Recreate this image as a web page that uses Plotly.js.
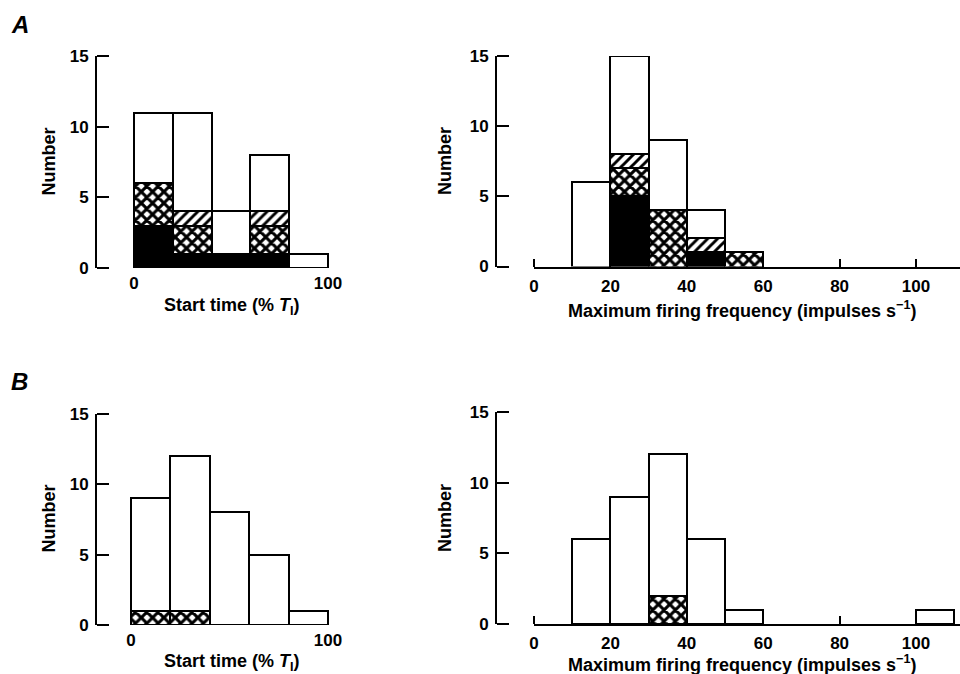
<!DOCTYPE html>
<html><head><meta charset="utf-8">
<script src="https://cdn.plot.ly/plotly-3.0.1.min.js"></script>
<style>html,body{margin:0;padding:0;background:#fff}#chart{width:960px;height:674px}</style>
</head><body><div id="chart"></div>
<script>
// ---- categories (bin centres) ----
const startBins = [10, 30, 50, 70, 90];                         // Start time (% T_I), bin width 20
const freqBins  = [5, 15, 25, 35, 45, 55, 65, 75, 85, 95, 105]; // Max firing frequency, bin width 10

// ---- Panel A: start time ----
const aStartSolid = [3, 1, 1, 1, 0];
const aStartCross = [3, 2, 0, 2, 0];
const aStartHatch = [0, 1, 0, 1, 0];
const aStartOpen  = [5, 7, 3, 4, 1];

// ---- Panel A: maximum firing frequency ----
const aFreqSolid = [0, 0, 5, 0, 1, 0, 0, 0, 0, 0, 0];
const aFreqCross = [0, 0, 2, 4, 0, 1, 0, 0, 0, 0, 0];
const aFreqHatch = [0, 0, 1, 0, 1, 0, 0, 0, 0, 0, 0];
const aFreqOpen  = [0, 6, 7, 5, 2, 0, 0, 0, 0, 0, 0];

// ---- Panel B: start time ----
const bStartCross = [1, 1, 0, 0, 0];
const bStartOpen  = [8, 11, 8, 5, 1];

// ---- Panel B: maximum firing frequency ----
const bFreqCross = [0, 0, 0, 2, 0, 0, 0, 0, 0, 0, 0];
const bFreqOpen  = [0, 6, 9, 10, 6, 1, 0, 0, 0, 0, 1];

// ---- tick labels ----
const yTicks = [0, 5, 10, 15];
const startTicks = [0, 100];
const freqTicks = [0, 20, 40, 60, 80, 100];

const W = 960, H = 674;
const fx = p => p / W;
const fy = p => 1 - p / H;
const FONT = 'Liberation Sans, Arial, sans-serif';

function seg(x, y, width, kind, xa, ya) {
  const m = {line: {color: '#000', width: 2}};
  if (kind === 'solid') m.color = '#000';
  else if (kind === 'open') m.color = '#fff';
  else {
    m.color = '#fff';
    m.pattern = kind === 'cross'
      ? {shape: 'x', fgcolor: '#000', bgcolor: '#fff', size: 8, solidity: 0.62, fillmode: 'replace'}
      : {shape: '/', fgcolor: '#000', bgcolor: '#fff', size: 7, solidity: 0.42, fillmode: 'replace'};
  }
  return {type: 'bar', x: x, y: y.map(v => v || null), width: width,
          marker: m, xaxis: xa, yaxis: ya, showlegend: false, hoverinfo: 'skip'};
}
// empty helper trace so that the tick-mark overlay axes get drawn
function holder(xa, ya) {
  return {type: 'scatter', mode: 'markers', x: [], y: [], xaxis: xa, yaxis: ya,
          showlegend: false, hoverinfo: 'skip'};
}

const data = [
  seg(startBins, aStartSolid, 20, 'solid', 'x', 'y'),
  seg(startBins, aStartCross, 20, 'cross', 'x', 'y'),
  seg(startBins, aStartHatch, 20, 'hatch', 'x', 'y'),
  seg(startBins, aStartOpen, 20, 'open', 'x', 'y'),
  seg(freqBins, aFreqSolid, 10, 'solid', 'x2', 'y2'),
  seg(freqBins, aFreqCross, 10, 'cross', 'x2', 'y2'),
  seg(freqBins, aFreqHatch, 10, 'hatch', 'x2', 'y2'),
  seg(freqBins, aFreqOpen, 10, 'open', 'x2', 'y2'),
  seg(startBins, bStartCross, 20, 'cross', 'x3', 'y3'),
  seg(startBins, bStartOpen, 20, 'open', 'x3', 'y3'),
  seg(freqBins, bFreqCross, 10, 'cross', 'x4', 'y4'),
  seg(freqBins, bFreqOpen, 10, 'open', 'x4', 'y4'),
  holder('x', 'y5'), holder('x2', 'y6'), holder('x3', 'y7'), holder('x4', 'y8'),
  holder('x5', 'y2'), holder('x6', 'y4')
];

const tickFont = {family: FONT, size: 17, color: '#000', weight: 'bold'};
const FREQ_MAX = (960 - 534) / ((916 - 534) / 100);

// main y axes: line + labels
function yAx(bottom, top, xpos) {
  return {domain: [fy(bottom), fy(top)], range: [0, 15], anchor: 'free', position: fx(xpos),
    tickmode: 'array', tickvals: yTicks, ticks: '', ticklabelstandoff: 3,
    showline: true, linewidth: 2, linecolor: 'black',
    showgrid: false, zeroline: false, tickfont: tickFont};
}
// tick-mark overlay y axes (ticks pointing into the plot)
function yTickAx(base, xpos) {
  return {overlaying: base, anchor: 'free', position: fx(xpos), side: 'right', range: [0, 15],
    tickmode: 'array', tickvals: yTicks, ticks: 'outside', ticklen: 12, tickwidth: 2,
    tickcolor: 'black', showticklabels: false, showline: false, showgrid: false, zeroline: false};
}
function xLeft(zeroPx, hundredPx, ya) {
  const s = (hundredPx - zeroPx) / 100;
  return {domain: [fx(96), fx(340)], range: [(96 - zeroPx) / s, (340 - zeroPx) / s], anchor: ya,
    tickmode: 'array', tickvals: startTicks, showline: false, ticks: '', showgrid: false, zeroline: false,
    tickfont: tickFont, ticklabelstandoff: 3};
}
function xRight(ya) {
  return {domain: [fx(534), 1], range: [0, FREQ_MAX], anchor: ya,
    tickmode: 'array', tickvals: freqTicks, ticks: '', ticklabelstandoff: 3,
    showline: true, linewidth: 2, linecolor: 'black',
    showgrid: false, zeroline: false, tickfont: tickFont};
}
// tick-mark overlay x axes (ticks pointing up)
function xTickAx(base, ypx) {
  return {overlaying: base, anchor: 'free', position: fy(ypx), side: 'top', range: [0, FREQ_MAX],
    tickmode: 'array', tickvals: freqTicks, ticks: 'outside', ticklen: 8, tickwidth: 2,
    tickcolor: 'black', showticklabels: false, showline: false, showgrid: false, zeroline: false};
}

const titleFont = {family: FONT, size: 18, color: '#000', weight: 'bold'};
function ann(text, xpx, ypx, extra) {
  return Object.assign({text: text, xref: 'paper', yref: 'paper', x: fx(xpx), y: fy(ypx),
    xanchor: 'center', yanchor: 'middle', showarrow: false, font: titleFont}, extra);
}
const startTitle = 'Start time (% <i>T</i><sub>I</sub>)';
const freqTitle = 'Maximum firing frequency (impulses s<sup>\u22121</sup>)';
const panelFont = {family: FONT, size: 24, color: '#000', weight: 'bold', style: 'italic'};

const layout = {
  width: W, height: H, margin: {l: 0, r: 0, t: 0, b: 0},
  paper_bgcolor: '#fff', plot_bgcolor: 'rgba(0,0,0,0)',
  barmode: 'stack', bargap: 0, showlegend: false,
  xaxis: xLeft(134, 328, 'y'),
  yaxis: yAx(268, 56, 96),
  xaxis2: xRight('y2'),
  yaxis2: yAx(266.5, 56, 496),
  xaxis3: xLeft(131, 328, 'y3'),
  yaxis3: yAx(625, 414, 96),
  xaxis4: xRight('y4'),
  yaxis4: yAx(624, 412, 496),
  yaxis5: yTickAx('y', 96),
  yaxis6: yTickAx('y2', 496),
  yaxis7: yTickAx('y3', 96),
  yaxis8: yTickAx('y4', 496),
  xaxis5: xTickAx('x2', 266.5),
  xaxis6: xTickAx('x4', 624),
  annotations: [
    ann('A', 20, 24, {font: panelFont}),
    ann('B', 19, 381, {font: panelFont}),
    ann('Number', 48.5, 162, {textangle: -90}),
    ann('Number', 445, 161, {textangle: -90}),
    ann('Number', 48.5, 519, {textangle: -90}),
    ann('Number', 445, 518, {textangle: -90}),
    ann(startTitle, 232, 306),
    ann(freqTitle, 742, 309),
    ann(startTitle, 232, 662),
    ann(freqTitle, 742, 663.5)
  ]
};

Plotly.newPlot('chart', data, layout, {displayModeBar: false});
</script>
</body></html>
